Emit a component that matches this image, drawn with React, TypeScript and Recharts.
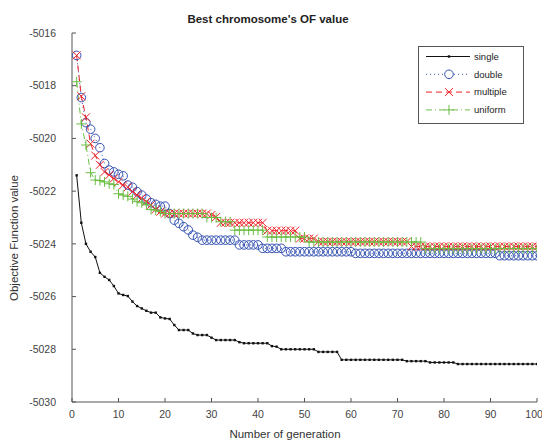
import { Customized, Legend, Line, LineChart, XAxis, YAxis } from "recharts";

const xTicks = [0, 10, 20, 30, 40, 50, 60, 70, 80, 90, 100];
const yTicks = [-5030, -5028, -5026, -5024, -5022, -5020, -5018, -5016];

// best OF value per generation (1..100)
const single = [
  -5021.4, -5023.2, -5024.0, -5024.3, -5024.5, -5025.1, -5025.25, -5025.37, -5025.6, -5025.88,
  -5025.94, -5025.98, -5026.19, -5026.36, -5026.45, -5026.54, -5026.61, -5026.61, -5026.79, -5026.83,
  -5026.85, -5027.08, -5027.27, -5027.27, -5027.27, -5027.4, -5027.46, -5027.46, -5027.46, -5027.56,
  -5027.65, -5027.65, -5027.65, -5027.65, -5027.65, -5027.73, -5027.77, -5027.77, -5027.77, -5027.77,
  -5027.77, -5027.77, -5027.88, -5027.9, -5028.0, -5028.0, -5028.0, -5028.0, -5028.0, -5028.0,
  -5028.0, -5028.0, -5028.1, -5028.1, -5028.1, -5028.1, -5028.1, -5028.4, -5028.4, -5028.4,
  -5028.4, -5028.4, -5028.4, -5028.4, -5028.4, -5028.4, -5028.4, -5028.4, -5028.4, -5028.4,
  -5028.4, -5028.45, -5028.45, -5028.45, -5028.45, -5028.45, -5028.5, -5028.5, -5028.5, -5028.5,
  -5028.5, -5028.5, -5028.56, -5028.56, -5028.56, -5028.56, -5028.56, -5028.56, -5028.56, -5028.56,
  -5028.56, -5028.56, -5028.56, -5028.56, -5028.56, -5028.56, -5028.56, -5028.56, -5028.56, -5028.56,
];

const double = [
  -5016.85, -5018.45, -5019.4, -5019.65, -5020.0, -5020.35, -5020.95, -5021.2, -5021.27, -5021.36,
  -5021.42, -5021.77, -5021.85, -5022.02, -5022.15, -5022.3, -5022.44, -5022.5, -5022.57, -5022.57,
  -5022.85, -5023.1, -5023.22, -5023.35, -5023.47, -5023.67, -5023.75, -5023.86, -5023.86, -5023.86,
  -5023.86, -5023.86, -5023.86, -5023.86, -5023.86, -5024.04, -5024.04, -5024.04, -5024.04, -5024.04,
  -5024.17, -5024.17, -5024.17, -5024.17, -5024.17, -5024.3, -5024.3, -5024.3, -5024.3, -5024.3,
  -5024.3, -5024.3, -5024.3, -5024.3, -5024.3, -5024.3, -5024.3, -5024.3, -5024.3, -5024.3,
  -5024.36, -5024.36, -5024.36, -5024.36, -5024.36, -5024.36, -5024.36, -5024.36, -5024.36, -5024.36,
  -5024.36, -5024.36, -5024.36, -5024.36, -5024.36, -5024.36, -5024.36, -5024.36, -5024.36, -5024.36,
  -5024.36, -5024.36, -5024.36, -5024.36, -5024.36, -5024.36, -5024.36, -5024.36, -5024.36, -5024.36,
  -5024.36, -5024.45, -5024.45, -5024.45, -5024.45, -5024.45, -5024.45, -5024.45, -5024.45, -5024.45,
];

const multiple = [
  -5016.85, -5018.4, -5019.2, -5020.2, -5020.65, -5021.0, -5021.27, -5021.39, -5021.52, -5021.65,
  -5021.77, -5021.85, -5022.02, -5022.15, -5022.27, -5022.4, -5022.52, -5022.7, -5022.78, -5022.85,
  -5022.85, -5022.85, -5022.85, -5022.85, -5022.85, -5022.85, -5022.85, -5022.85, -5022.85, -5022.9,
  -5022.98, -5023.2, -5023.2, -5023.2, -5023.2, -5023.2, -5023.2, -5023.2, -5023.2, -5023.2,
  -5023.2, -5023.5, -5023.5, -5023.5, -5023.5, -5023.5, -5023.5, -5023.5, -5023.8, -5023.8,
  -5023.8, -5023.8, -5023.92, -5023.92, -5023.92, -5023.92, -5023.92, -5023.92, -5023.92, -5023.92,
  -5023.92, -5023.92, -5023.92, -5023.92, -5023.92, -5023.92, -5023.92, -5023.92, -5023.92, -5023.92,
  -5023.92, -5023.92, -5024.1, -5024.1, -5024.1, -5024.1, -5024.1, -5024.1, -5024.1, -5024.1,
  -5024.1, -5024.1, -5024.1, -5024.1, -5024.1, -5024.1, -5024.1, -5024.1, -5024.1, -5024.1,
  -5024.1, -5024.1, -5024.1, -5024.1, -5024.1, -5024.1, -5024.1, -5024.1, -5024.1, -5024.1,
];

const uniform = [
  -5017.85, -5019.45, -5020.25, -5021.3, -5021.58, -5021.6, -5021.65, -5021.72, -5021.75, -5022.1,
  -5022.15, -5022.2, -5022.3, -5022.4, -5022.44, -5022.52, -5022.7, -5022.72, -5022.77, -5022.85,
  -5022.85, -5022.85, -5022.85, -5022.85, -5022.85, -5022.85, -5022.85, -5022.85, -5023.0, -5023.0,
  -5023.0, -5023.16, -5023.16, -5023.16, -5023.48, -5023.48, -5023.48, -5023.48, -5023.48, -5023.48,
  -5023.48, -5023.74, -5023.74, -5023.74, -5023.74, -5023.74, -5023.74, -5023.74, -5023.74, -5023.74,
  -5023.93, -5023.93, -5023.93, -5023.93, -5023.93, -5023.93, -5023.93, -5023.93, -5023.93, -5023.93,
  -5023.93, -5023.93, -5023.93, -5023.93, -5023.93, -5023.93, -5023.93, -5023.93, -5023.93, -5023.93,
  -5023.93, -5023.93, -5023.93, -5023.93, -5023.93, -5024.18, -5024.18, -5024.18, -5024.18, -5024.18,
  -5024.18, -5024.18, -5024.18, -5024.18, -5024.18, -5024.18, -5024.18, -5024.18, -5024.18, -5024.18,
  -5024.18, -5024.18, -5024.18, -5024.18, -5024.18, -5024.18, -5024.18, -5024.18, -5024.18, -5024.18,
];

const data = single.map((v, i) => ({
  gen: i + 1,
  single: v,
  double: double[i],
  multiple: multiple[i],
  uniform: uniform[i],
}));

const BLACK = "#111111";
const BLUE = "#3553b3";
const RED = "#ee2229";
const GREEN = "#6cbd45";
const FONT = "'Liberation Sans', Arial, sans-serif";

const pointDot = (p: any) => (
  <rect key={`s-${p.index}`} x={p.cx - 1.2} y={p.cy - 1.2} width={2.4} height={2.4} fill={BLACK} />
);
const circleDot = (p: any) => (
  <circle key={`d-${p.index}`} cx={p.cx} cy={p.cy} r={4.3} fill="none" stroke={BLUE} strokeWidth={1} />
);
const crossDot = (p: any) => (
  <path
    key={`m-${p.index}`}
    d={`M${p.cx - 4},${p.cy - 4}L${p.cx + 4},${p.cy + 4}M${p.cx - 4},${p.cy + 4}L${p.cx + 4},${p.cy - 4}`}
    stroke={RED}
    strokeWidth={1}
    fill="none"
  />
);
const plusDot = (p: any) => (
  <path
    key={`u-${p.index}`}
    d={`M${p.cx - 5},${p.cy}H${p.cx + 5}M${p.cx},${p.cy - 5}V${p.cy + 5}`}
    stroke={GREEN}
    strokeWidth={1}
    fill="none"
  />
);

const legendItems = [
  { name: "single", color: BLACK, dash: undefined, marker: "point" },
  { name: "double", color: BLUE, dash: "1 3", marker: "circle" },
  { name: "multiple", color: RED, dash: "6 4", marker: "cross" },
  { name: "uniform", color: GREEN, dash: "6 3 1 3", marker: "plus" },
];

function LegendBox() {
  return (
    <svg width={107} height={79} style={{ display: "block" }}>
      <rect x={0.5} y={0.5} width={105} height={77} fill="#fff" stroke="#555" />
      {legendItems.map((it, i) => {
        const y = 10.5 + i * 17.8;
        const mx = 31;
        return (
          <g key={it.name}>
            <line x1={8} x2={52} y1={y} y2={y} stroke={it.color} strokeDasharray={it.dash} />
            {it.marker === "point" && <rect x={mx - 1.2} y={y - 1.2} width={2.4} height={2.4} fill={BLACK} />}
            {it.marker === "circle" && <circle cx={mx} cy={y} r={4.3} fill="#fff" stroke={BLUE} />}
            {it.marker === "cross" && (
              <path d={`M${mx - 4},${y - 4}L${mx + 4},${y + 4}M${mx - 4},${y + 4}L${mx + 4},${y - 4}`} stroke={RED} />
            )}
            {it.marker === "plus" && (
              <path d={`M${mx - 5},${y}H${mx + 5}M${mx},${y - 5}V${y + 5}`} stroke={GREEN} />
            )}
            <text x={56} y={y + 3.3} fontSize={9.5} fontFamily={FONT} fill="#222">
              {it.name}
            </text>
          </g>
        );
      })}
    </svg>
  );
}

function Labels() {
  return (
    <g fontFamily={FONT}>
      <text x={268} y={23} textAnchor="middle" fontSize={11.5} fontWeight="bold" fill="#222">
        Best chromosome's OF value
      </text>
      <text x={285} y={438} textAnchor="middle" fontSize={11.5} fill="#333">
        Number of generation
      </text>
      <text
        x={18}
        y={238}
        textAnchor="middle"
        fontSize={11.5}
        fill="#333"
        transform="rotate(-90 18 238)"
      >
        Objective Function value
      </text>
    </g>
  );
}

export default function App() {
  return (
    <div style={{ position: "absolute", left: 0, top: 0, width: 542, height: 443, background: "#fff" }}>
      <LineChart width={542} height={443} data={data} margin={{ top: 33, right: 5, left: 12, bottom: 0 }}>
        <XAxis
          dataKey="gen"
          type="number"
          domain={[0, 100]}
          ticks={xTicks}
          allowDataOverflow
          height={41}
          stroke="#555"
          tickSize={-4}
          tickMargin={13}
          tick={{ fontSize: 10.5, fill: "#444", fontFamily: FONT }}
        />
        <YAxis
          type="number"
          domain={[-5030, -5016]}
          ticks={yTicks}
          allowDataOverflow
          width={60}
          stroke="#555"
          tickSize={-4}
          tickMargin={20}
          tick={{ fontSize: 10.5, fill: "#444", fontFamily: FONT }}
        />
        <Line
          dataKey="single"
          stroke={BLACK}
          strokeWidth={1}
          dot={pointDot}
          activeDot={false}
          isAnimationActive={false}
        />
        <Line
          dataKey="double"
          stroke={BLUE}
          strokeWidth={1}
          strokeDasharray="1 3"
          dot={circleDot}
          activeDot={false}
          isAnimationActive={false}
        />
        <Line
          dataKey="multiple"
          stroke={RED}
          strokeWidth={1}
          strokeDasharray="6 4"
          dot={crossDot}
          activeDot={false}
          isAnimationActive={false}
        />
        <Line
          dataKey="uniform"
          stroke={GREEN}
          strokeWidth={1}
          strokeDasharray="6 3 1 3"
          dot={plusDot}
          activeDot={false}
          isAnimationActive={false}
        />
        <Legend
          verticalAlign="middle"
          align="center"
          content={() => <LegendBox />}
          wrapperStyle={{ left: 418, top: 46, width: 107, height: 79 }}
        />
        <Customized component={<Labels />} />
      </LineChart>
    </div>
  );
}
